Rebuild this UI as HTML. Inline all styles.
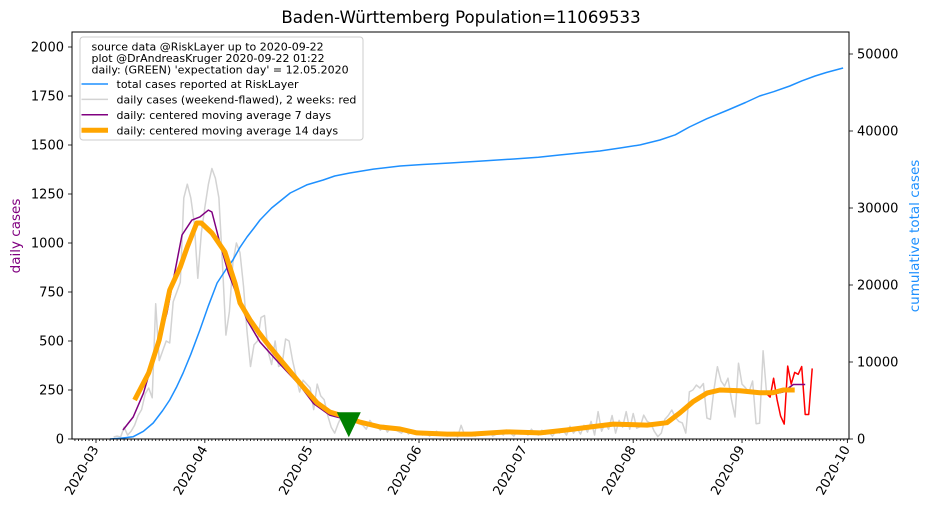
<!DOCTYPE html>
<html><head><meta charset="utf-8"><style>
body{margin:0;background:#fff;}
svg{display:block;font-family:"DejaVu Sans","Liberation Sans",sans-serif;}
</style></head><body>
<svg id="chart" width="932" height="516" viewBox="0 0 932 516" xmlns="http://www.w3.org/2000/svg">
<text x="461" y="23" text-anchor="middle" font-size="16.6" fill="#000">Baden-Württemberg Population=11069533</text>
<g id="plot"></g>
<text transform="translate(20,236) rotate(-90)" text-anchor="middle" font-size="13.5" fill="purple">daily cases</text>
<text transform="translate(919,236) rotate(-90)" text-anchor="middle" font-size="13.5" fill="#1e90ff">cumulative total cases</text>
</svg>
<script>
// day index = days since 2020-03-01
const monthLabels = ["2020-03","2020-04","2020-05","2020-06","2020-07","2020-08","2020-09","2020-10"];
const monthDays = [0,31,61,92,122,153,184,214];
const leftTicks = [0,250,500,750,1000,1250,1500,1750,2000];
const rightTicks = [0,10000,20000,30000,40000,50000];
const dailyStart = 5;
const dailyCases = [10,15,10,60,20,40,70,120,150,230,260,210,690,400,450,500,490,700,750,800,1230,1300,1230,1100,820,1050,1180,1300,1380,1330,1230,900,530,650,900,1000,950,780,550,370,480,500,620,630,450,380,500,370,380,510,500,400,320,240,300,280,260,150,280,220,200,120,60,30,80,120,130,90,120,90,80,70,50,95,70,65,45,70,35,60,50,40,30,50,25,45,40,
30,20,35,15,25,40,20, 30,15,25,35,10,70,20, 30,25,15,35,20,30,40, 15,25,35,20,45,30,15, 40,25,35,20,50,30,20, 45,25,35,15,40,30,45, 20,65,30,55,25,70,35, 90,20,140,40,80,50,120, 30,95,60,140,50,130,55,
63,122,90,80,40,12,30,100,120,148,110,90,82,30,241,250,275,260,283,107,100,250,369,296,270,310,200,112,386,280,261,240,296,78,80,450,231,
214,310,200,117,76,372,280,340,330,370,125,125,360];
const ma14Days = [11,15,18,21,24,26,28.7,30,33,36.7,39.6,41,43.9,46.5,49.6,53.3,58,63,66.6,69.5,75,81,86.6,91.4,100,107,117,126.5,134,140.7,147.3,157,162.6,166.3,170,174,177.7,183.4,189,192.8,195.7,199];
const ma14Vals = [199,337,505,760,878,980,1102,1102,1051,954,796,694,607,540,469,388,286,184,138,122,87,61,51,31,25,25,36,31,46,61,76,71,83,133,190,234,250,246,236,236,250,250];
const ma7Days = [7.7,10.6,13.5,16.3,20.2,24.5,27.3,29.6,32,33,35.3,37.7,39.6,43,46.7,52,58,62,66.6,68.6,75,81,86.6,91.4,100,107,117,126.5,134,140.7,147.3,157,162.6,166.3,170,174,177.7,183.4,189,192.5,195.7,198.6,202];
const ma7Vals = [46,112,233,403,643,1041,1117,1133,1168,1158,1000,847,760,607,495,390,276,180,122,112,85,60,50,30,24,26,35,30,45,60,75,70,84,135,196,238,252,245,236,228,240,278,278];
const cumDays = [4,7,10.6,13.5,16.3,19,21,23,24.8,27,29.6,32,34.5,37,39,41,43,45,46.7,50,55.3,60,64.7,68,72.3,79,86.6,93,100.8,110,119,126,132,138,143.5,149.5,155,160.6,165,169,174,180,185,189,193,197.6,201,204.8,208,212.8];
const cumVals = [0,100,300,1000,2080,3700,5060,6800,8570,11000,14150,17300,20260,22000,23250,24900,26230,27400,28440,30000,31950,33000,33640,34150,34550,35050,35450,35650,35840,36100,36360,36600,36880,37150,37400,37800,38200,38830,39500,40520,41600,42730,43700,44550,45100,45840,46500,47140,47600,48180];
const expectDay = [72];
const expectVal = [75];

const NS="http://www.w3.org/2000/svg";
const L=72,R=849,T=32,B=439;
const xS=d=>96+d*3.511;
const yL=v=>B-v*0.196;
const yR=v=>B-v*0.0077;
const plot=document.getElementById('plot');
function mk(tag,attrs,parent){const e=document.createElementNS(NS,tag);for(const k in attrs)e.setAttribute(k,attrs[k]);(parent||plot).appendChild(e);return e;}
function poly(xs,ys,color,w,name){
  const p=mk('polyline',{points:xs.map((x,i)=>x.toFixed(1)+','+ys[i].toFixed(1)).join(' '),fill:'none',stroke:color,'stroke-width':w,'stroke-linejoin':'round','stroke-linecap':'butt'});
  
  
  return p;
}
const dDays=dailyCases.map((v,i)=>dailyStart+i);
const redStart=dailyCases.length-14;
poly(dDays.slice(0,redStart+1).map(xS),dailyCases.slice(0,redStart+1).map(yL),'#d3d3d3',1.5,'daily-cases-line');
poly(cumDays.map(xS),cumVals.map(yR),'#1e90ff',1.5,'cumulative-cases-line');
poly(dDays.slice(redStart).map(xS),dailyCases.slice(redStart).map(yL),'red',1.5,'daily-cases-last-two-weeks-line');
poly(ma7Days.map(xS),ma7Vals.map(yL),'purple',1.5,'moving-average-7-line');
poly(ma14Days.map(xS),ma14Vals.map(yL),'orange',5,'moving-average-14-line');
{const cx=xS(expectDay[0]),cy=yL(expectVal[0]);
const m=mk('polygon',{points:`${cx-12},${cy-12} ${cx+12},${cy-12} ${cx},${cy+13}`,fill:'green'});

}
const fr=mk('rect',{x:L,y:T,width:R-L,height:B-T,fill:'none',stroke:'#000','stroke-width':1});


for(let d=-6;d<=214;d++){const x=xS(d);if(x<L||x>R)continue;mk('line',{x1:x,x2:x,y1:B,y2:B+2,stroke:'#000','stroke-width':0.8});}
monthDays.forEach((d,i)=>{const x=xS(d);mk('line',{x1:x,x2:x,y1:B,y2:B+4,stroke:'#000','stroke-width':0.8});
 const t=mk('text',{transform:`translate(${x+3},${B+10}) rotate(-60)`,'text-anchor':'end','font-size':13,fill:'#000'});t.textContent=monthLabels[i];
 
 });
leftTicks.forEach(v=>{const y=yL(v);mk('line',{x1:L-4,x2:L,y1:y,y2:y,stroke:'#000','stroke-width':0.8});
 const t=mk('text',{x:L-8,y:y+4.7,'text-anchor':'end','font-size':13,fill:'#000'});t.textContent=v;
 
 });
rightTicks.forEach(v=>{const y=yR(v);mk('line',{x1:R,x2:R+4,y1:y,y2:y,stroke:'#000','stroke-width':0.8});
 const t=mk('text',{x:R+8,y:y+4.7,'text-anchor':'start','font-size':13,fill:'#000'});t.textContent=v;
 
 });
const lg=mk('g',{});


mk('rect',{x:80,y:37,width:283,height:103,rx:3,fill:'#fff','fill-opacity':0.85,stroke:'#ccc','stroke-width':1},lg);
const hdr=["source data @RiskLayer up to 2020-09-22","plot @DrAndreasKruger 2020-09-22 01:22","daily: (GREEN) 'expectation day' = 12.05.2020"];
hdr.forEach((s,i)=>{const t=mk('text',{x:91.5,y:50.5+i*11.5,'font-size':11,fill:'#000'},lg);t.textContent=s;
 
 });
const ents=[["total cases reported at RiskLayer","#1e90ff",1.5],["daily cases (weekend-flawed), 2 weeks: red","#d3d3d3",1.5],["daily: centered moving average 7 days","purple",1.5],["daily: centered moving average 14 days","orange",5]];
ents.forEach((e,i)=>{const y=84+i*15.4;mk('line',{x1:81.5,x2:108,y1:y,y2:y,stroke:e[1],'stroke-width':e[2]},lg);
 const t=mk('text',{x:116.5,y:y+4.2,'font-size':11,fill:'#000'},lg);t.textContent=e[0];
 
 });
</script>
</body></html>
